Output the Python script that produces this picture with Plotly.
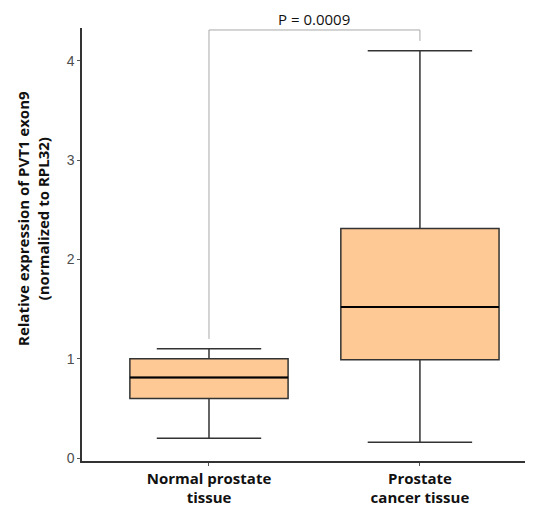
import plotly.graph_objects as go

categories = ["Normal prostate<br>tissue", "Prostate<br>cancer tissue"]
q1 = [0.60, 0.99]
median = [0.81, 1.52]
q3 = [1.00, 2.31]
lower = [0.20, 0.16]
upper = [1.10, 4.10]
p_text = "P = 0.0009"
bracket_left_y = 1.20
bracket_top_y = 4.31
bracket_right_y = 4.20
y_ticks = [0, 1, 2, 3, 4]

box_w = 0.75
xs = list(range(len(categories)))

fig = go.Figure()
for i in xs:
    fig.add_trace(go.Box(
        x=[i], q1=[q1[i]], median=[median[i]], q3=[q3[i]],
        lowerfence=[lower[i]], upperfence=[upper[i]],
        width=box_w, whiskerwidth=0.66,
        fillcolor="#FEC994", line=dict(color="#333333", width=1.5),
        boxpoints=False, showlegend=False, hoverinfo="skip",
    ))
    fig.add_shape(type="line", xref="x", yref="y",
                  x0=i - box_w / 2, x1=i + box_w / 2, y0=median[i], y1=median[i],
                  line=dict(color="#000000", width=2))

# significance bracket
fig.add_shape(type="path", xref="x", yref="y",
              path=f"M {xs[0]} {bracket_left_y} L {xs[0]} {bracket_top_y} L {xs[1]} {bracket_top_y} L {xs[1]} {bracket_right_y}",
              line=dict(color="#A8A8A8", width=1))
fig.add_annotation(x=(xs[0] + xs[1]) / 2, y=bracket_top_y, xref="x", yref="y",
                   text=p_text, showarrow=False, yanchor="middle", yshift=10.5, borderpad=0,
                   font=dict(family="Open Sans", size=15, color="#111111"))

# page body adds an 8px offset; plot area target (window px): left 82, right 533, top 28, bottom 461
fig.add_annotation(xref="paper", yref="paper", x=(33 - 82) / 451, y=(461 - 219) / 433,
                   xanchor="center", yanchor="middle", textangle=-90, showarrow=False,
                   text="<b>Relative expression of PVT1 exon9</b><br><b>(normalized to RPL32)</b>",
                   font=dict(family="Open Sans", size=15, color="#111111"))

fig.update_layout(
    width=525, height=500,
    margin=dict(l=74, r=0, t=20, b=47),
    plot_bgcolor="white", paper_bgcolor="white",
    xaxis=dict(range=[-0.602, 1.536], tickvals=xs, ticktext=[f"<b>{c}</b>" for c in categories],
               showgrid=False, zeroline=False, showline=True, linecolor="#333333", linewidth=1.5,
               ticks="outside", ticklen=3, tickcolor="#555555",
               tickfont=dict(family="Open Sans", size=15, color="#111111")),
    yaxis=dict(range=[-0.03, 4.33], tickvals=y_ticks, ticktext=[str(t) for t in y_ticks],
               showgrid=False, zeroline=False, showline=True, linecolor="#333333", linewidth=1.5,
               ticks="outside", ticklen=3, tickcolor="#555555",
               tickfont=dict(family="Liberation Sans", size=14, color="#4D4D4D")),
)

fig.write_html("out.html")
